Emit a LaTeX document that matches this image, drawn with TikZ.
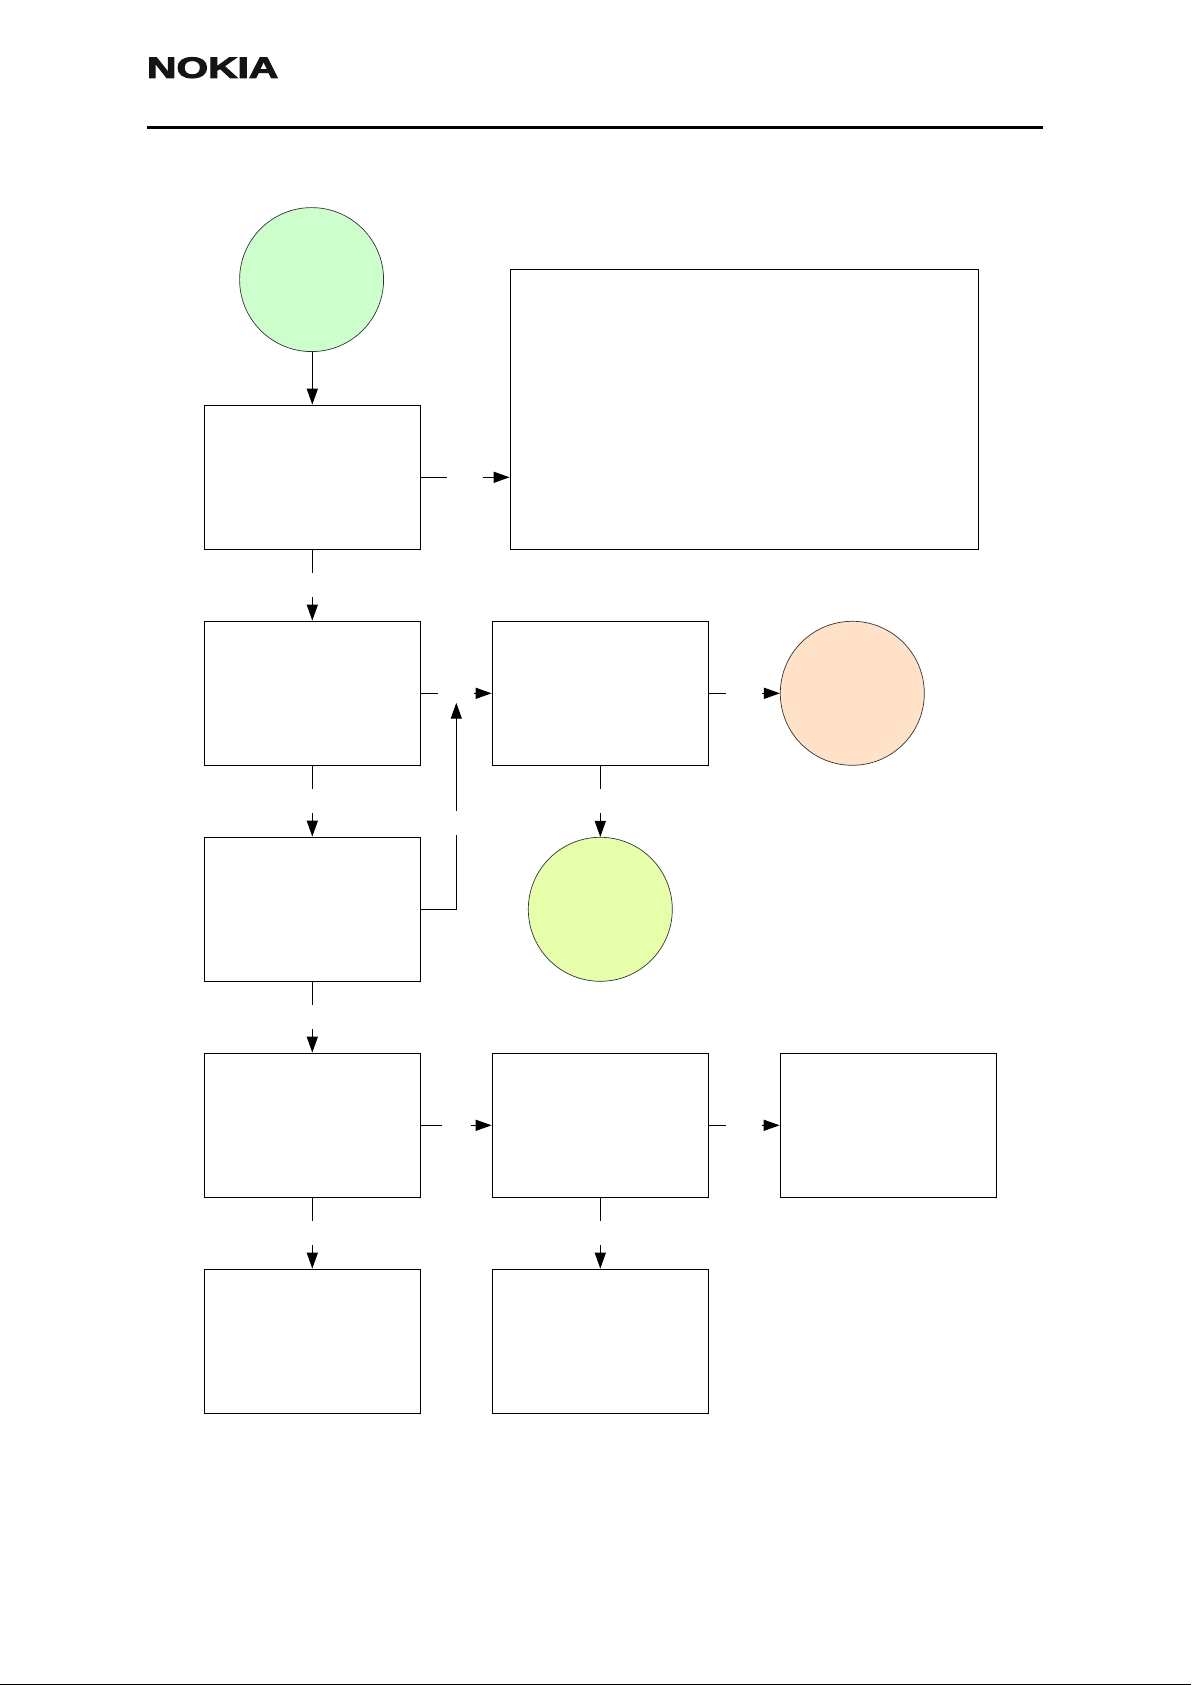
\documentclass[tikz,border=0pt]{standalone}
\usepackage{fontspec}
\newfontfamily\logofont[FakeBold=3]{Liberation Sans Bold}
\usetikzlibrary{arrows.meta}
\definecolor{startgreen}{HTML}{CCFFCC}
\definecolor{endpeach}{HTML}{FFE2C8}
\definecolor{endyellow}{HTML}{E6FFAA}
\tikzset{
  flowbox/.style={draw,line width=1.3pt,inner sep=0pt,minimum width=216pt,minimum height=144pt},
  flowcirc/.style={circle,draw=black!80,line width=0.7pt,inner sep=0pt,minimum size=144pt},
  flowarr/.style={line width=1.3pt,-{Triangle[length=16pt,width=11pt]}},
  gapx/.style={fill=white,inner sep=0pt,minimum width=36pt,minimum height=6pt},
  gapy/.style={fill=white,inner sep=0pt,minimum width=6pt,minimum height=24pt}
}
\begin{document}
\begin{tikzpicture}[x=1pt,y=-1pt]
    \useasboundingbox (0,0) rectangle (1191,1685);
    \node[anchor=south west,inner sep=0pt,transform shape,xscale=1.39,font=\logofont\fontsize{29.3}{30}\selectfont,text=black!92] (logo) at (146.8,78.3) {NOKIA};
    \draw[line width=3.4pt] (147,127.3) -- (1043,127.3);
    \draw[line width=1.2pt] (0,1684.4) -- (1191,1684.4);

    \node[flowcirc,fill=startgreen] (start) at (311.6,279.6) {};
    \node[flowbox] (check) at (312.3,477.3) {};
    \node[flowbox,minimum width=468pt,minimum height=280pt] (notes) at (744.3,409.3) {};
    \node[flowbox] (boxa) at (312.3,693.3) {};
    \node[flowbox] (boxb) at (600.3,693.3) {};
    \node[flowcirc,fill=endpeach] (endok) at (852.3,693.3) {};
    \node[flowbox] (boxc) at (312.3,909.3) {};
    \node[flowcirc,fill=endyellow] (endfix) at (600.3,909.3) {};
    \node[flowbox] (boxd) at (312.3,1125.3) {};
    \node[flowbox] (boxe) at (600.3,1125.3) {};
    \node[flowbox] (boxf) at (888.3,1125.3) {};
    \node[flowbox] (boxg) at (312.3,1341.3) {};
    \node[flowbox] (boxh) at (600.3,1341.3) {};
    \coordinate (riser) at (456.3,702.7);

    \draw[flowarr] (check |- start.south) -- (check);
    \draw[flowarr] (check) -- node[gapx]{} (notes.west |- check);
    \draw[flowarr] (check) -- node[gapy]{} (boxa);
    \draw[flowarr] (boxa) -- node[gapx]{} (boxb);
    \draw[flowarr] (boxb) -- node[gapx]{} (endok);
    \draw[flowarr] (boxb) -- node[gapy]{} (endfix);
    \draw[flowarr] (boxa) -- node[gapy]{} (boxc);
    \draw[flowarr] (boxc) -| node[gapy,pos=0.71]{} (riser);
    \draw[flowarr] (boxc) -- node[gapy]{} (boxd);
    \draw[flowarr] (boxd) -- node[gapx,minimum width=28.5pt]{} (boxe);
    \draw[flowarr] (boxe) -- node[gapx]{} (boxf);
    \draw[flowarr] (boxd) -- node[gapy]{} (boxg);
    \draw[flowarr] (boxe) -- node[gapy]{} (boxh);
\end{tikzpicture}
\end{document}
